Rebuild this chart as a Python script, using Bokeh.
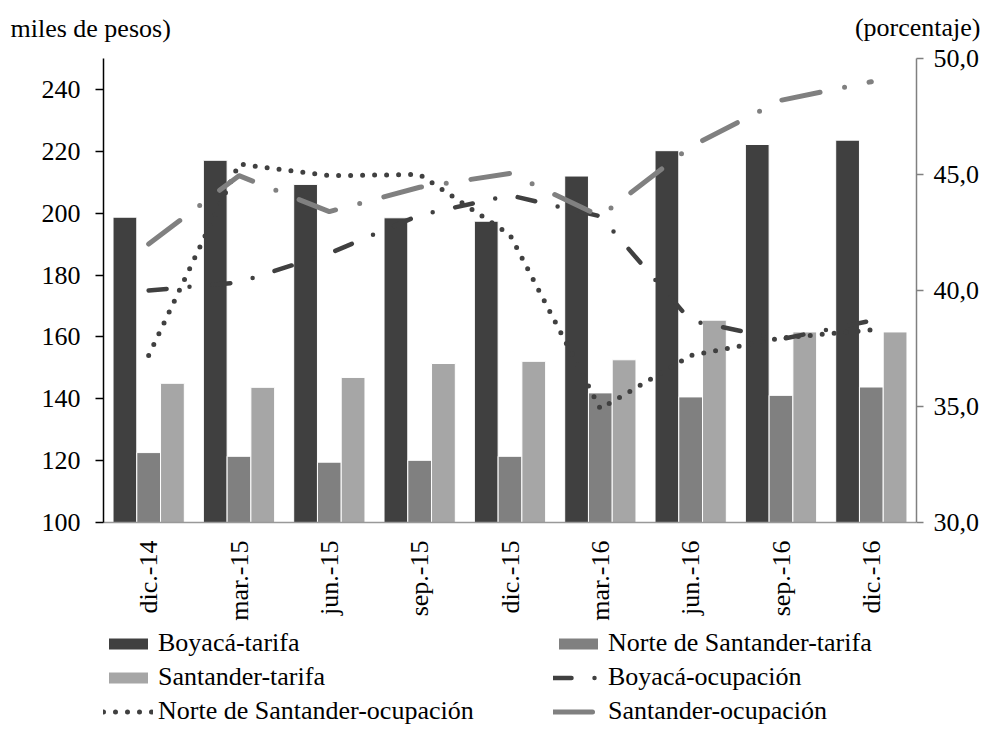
from bokeh.plotting import figure
from bokeh.models import (FactorRange, Range1d, LinearAxis, FixedTicker, Legend,
                          LegendItem, Label, ColumnDataSource, CustomJSTickFormatter)
from bokeh.transform import dodge
from bokeh.embed import file_html
from bokeh.resources import INLINE
from math import pi

# ---------------- data ----------------
categories = ["dic.-14", "mar.-15", "jun.-15", "sep.-15", "dic.-15",
              "mar.-16", "jun.-16", "sep.-16", "dic.-16"]

boyaca_tarifa = [198.7, 217.1, 209.3, 198.5, 197.4, 212.0, 220.2, 222.2, 223.6]
norte_tarifa = [122.6, 121.4, 119.5, 120.1, 121.4, 141.9, 140.6, 141.1, 143.8]
santander_tarifa = [145.0, 143.7, 146.9, 151.4, 152.1, 152.6, 165.4, 161.6, 161.6]

boyaca_ocupacion = [40.0, 40.35, 41.6, 43.25, 44.1, 43.2, 38.7, 37.9, 38.7]
norte_ocupacion = [37.2, 45.45, 44.95, 45.0, 42.4, 34.9, 37.2, 37.95, 38.3]
santander_ocupacion = [42.0, 44.95, 43.4, 44.45, 45.05, 43.2, 46.2, 48.2, 49.0]

left_ticks = [100, 120, 140, 160, 180, 200, 220, 240]
right_ticks = [30, 35, 40, 45, 50]
left_bounds = (100, 250)
right_bounds = (30, 50)

left_title = "miles de pesos)"
right_title = "(porcentaje)"

FONT = "Liberation Serif"
FS = "26px"

# ---------------- layout geometry (pixels) ----------------
W, H = 982, 726
FRAME_TOP = 58          # top of plotting area (below the two title panels)
AXIS_Y = 522            # pixel row of the category axis
extra_px = H - AXIS_Y   # room below the axis for tick labels and legend
lo_span = left_bounds[1] - left_bounds[0]
ro_span = right_bounds[1] - right_bounds[0]
px_main = AXIS_Y - FRAME_TOP
left_lo = left_bounds[0] - lo_span * extra_px / px_main
right_lo = right_bounds[0] - ro_span * extra_px / px_main

src = ColumnDataSource(dict(cat=categories,
                            boy=boyaca_tarifa, nor=norte_tarifa, san=santander_tarifa,
                            boy_o=boyaca_ocupacion, nor_o=norte_ocupacion,
                            san_o=santander_ocupacion))

p = figure(x_range=FactorRange(*categories),
           y_range=Range1d(left_lo, left_bounds[1]),
           width=W, height=H, output_backend="svg", toolbar_location=None,
           min_border_left=103, min_border_right=64, min_border_top=53,
           min_border_bottom=0)
p.extra_y_ranges = {"pct": Range1d(right_lo, right_bounds[1])}

p.xgrid.visible = False
p.ygrid.visible = False
p.outline_line_color = None

# left axis
ya = p.yaxis[0]
ya.ticker = FixedTicker(ticks=left_ticks)
ya.bounds = left_bounds
ya.axis_line_color = "black"
ya.axis_line_width = 1.5
ya.major_tick_line_color = "black"
ya.major_tick_line_width = 1.5
ya.major_tick_out = 8
ya.major_tick_in = 0
ya.minor_tick_line_color = None
ya.major_label_text_font = FONT
ya.major_label_text_font_size = FS
ya.major_label_text_color = "black"
ya.major_label_standoff = 15

# bottom (category) axis, placed at the value 100 of the left scale
xa = p.xaxis[0]
xa.fixed_location = left_bounds[0]
xa.axis_line_color = "#999999"
xa.axis_line_width = 1.5
xa.major_tick_line_color = None
xa.minor_tick_line_color = None
xa.major_label_orientation = pi / 2
xa.major_label_text_font = FONT
xa.major_label_text_font_size = FS
xa.major_label_text_color = "black"
xa.major_label_standoff = 12

# right axis
ra = LinearAxis(y_range_name="pct", ticker=FixedTicker(ticks=right_ticks),
                bounds=right_bounds,
                formatter=CustomJSTickFormatter(code="return tick.toFixed(1).replace('.', ',');"))
ra.axis_line_color = "#808080"
ra.axis_line_width = 1.5
ra.major_tick_line_color = "#808080"
ra.major_tick_line_width = 1.5
ra.major_tick_out = 7
ra.major_tick_in = 0
ra.minor_tick_line_color = None
ra.major_label_text_font = FONT
ra.major_label_text_font_size = FS
ra.major_label_text_color = "black"
ra.major_label_standoff = 10
p.add_layout(ra, "right")

# bars
bw = 0.263
base = left_bounds[0]
r1 = p.vbar(x=dodge("cat", -bw, range=p.x_range), top="boy", bottom=base, width=bw,
            source=src, fill_color="#404040", line_color="white", line_width=1)
r2 = p.vbar(x=dodge("cat", 0, range=p.x_range), top="nor", bottom=base, width=bw,
            source=src, fill_color="#808080", line_color="white", line_width=1)
r3 = p.vbar(x=dodge("cat", bw, range=p.x_range), top="san", bottom=base, width=bw,
            source=src, fill_color="#a6a6a6", line_color="white", line_width=1)

# lines
l1 = p.line(x="cat", y="boy_o", y_range_name="pct", source=src, line_color="#404040",
            line_width=4.5, line_dash="18 23 0 23", line_cap="round", line_join="round")
l2 = p.line(x="cat", y="nor_o", y_range_name="pct", source=src, line_color="#404040",
            line_width=5, line_dash="0 12", line_cap="round", line_join="round")
l3 = p.line(x="cat", y="san_o", y_range_name="pct", source=src, line_color="#808080",
            line_width=5, line_dash="39 25 0 25", line_cap="round", line_join="round")

# legend inside the (extended) frame, under the category labels
legend = Legend(items=[
    LegendItem(label="Boyacá-tarifa", renderers=[r1]),
    LegendItem(label="Norte de Santander-tarifa", renderers=[r2]),
    LegendItem(label="Santander-tarifa", renderers=[r3]),
    LegendItem(label="Boyacá-ocupación", renderers=[l1]),
    LegendItem(label="Norte de Santander-ocupación", renderers=[l2]),
    LegendItem(label="Santander-ocupación", renderers=[l3]),
], orientation="horizontal", ncols=2, location=(0, 0),
    glyph_width=50, glyph_height=15, label_standoff=5, label_width=391,
    label_height=28, spacing=4, padding=0, margin=0,
    border_line_color=None, background_fill_alpha=0,
    label_text_font=FONT, label_text_font_size=FS, label_text_color="black")
p.add_layout(legend)

# axis titles (in the panel above the frame)
p.add_layout(Label(x=-93, y=30, x_units="screen", y_units="screen", text=left_title,
                   text_font=FONT, text_font_size=FS, text_baseline="middle",
                   text_align="left", text_color="black"), "above")
p.add_layout(Label(x=877, y=2, x_units="screen", y_units="screen", text=right_title,
                   text_font=FONT, text_font_size=FS, text_baseline="middle",
                   text_align="right", text_color="black"), "above")

open("out.html", "w").write(file_html(p, INLINE))
